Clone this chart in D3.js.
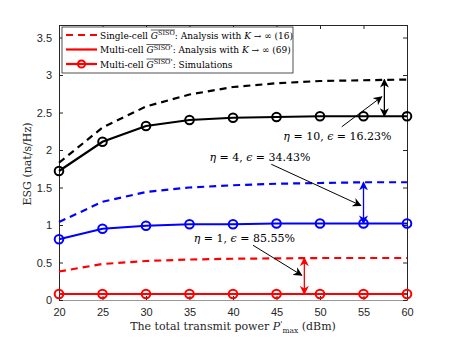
<!DOCTYPE html>
<html><head><meta charset="utf-8">
<script src="https://cdn.jsdelivr.net/npm/d3@7"></script>
<style>body{margin:0;background:#fff}svg{display:block}</style>
</head><body><svg id="c" width="450" height="338"></svg>
<script>
const power = [20,25,30,35,40,45,50,55,60];
const single10 = [1.83,2.30,2.58,2.74,2.84,2.89,2.92,2.93,2.94];
const multi10  = [1.72,2.11,2.32,2.40,2.43,2.44,2.45,2.45,2.45];
const single4  = [1.04,1.31,1.44,1.50,1.53,1.55,1.56,1.57,1.57];
const multi4   = [0.81,0.95,0.99,1.01,1.01,1.02,1.02,1.02,1.02];
const single1  = [0.38,0.48,0.52,0.54,0.55,0.555,0.56,0.56,0.56];
const multi1   = [0.08,0.08,0.08,0.08,0.08,0.08,0.08,0.08,0.08];
const xTicks = [20,25,30,35,40,45,50,55,60];
const yTicks = [0,0.5,1,1.5,2,2.5,3,3.5];
const gapArrows = [
  {x:57.4, y0:2.45, y1:2.94, color:'#000'},
  {x:55.0, y0:1.02, y1:1.57, color:'#0000ff'},
  {x:48.2, y0:0.08, y1:0.56, color:'#ff0000'}];
const notes = [
  {eta:'10', eps:'16.23%', tx:52.0, ty:2.13, ax0:52.5, ay0:2.31, ax1:57.1, ay1:2.71},
  {eta:'4',  eps:'34.43%', tx:43.1, ty:1.85, ax0:44.4, ay0:1.81, ax1:54.7, ay1:1.26},
  {eta:'1',  eps:'85.55%', tx:41.3, ty:0.77, ax0:42.3, ay0:0.73, ax1:47.9, ay1:0.33}];

const svg = d3.select('#c');
const x = d3.scaleLinear().domain([20,60]).range([59,407]);
const y = d3.scaleLinear().domain([0,3.667]).range([300,25]);
const axCol = '#262626';
const serif = "'DejaVu Serif', serif";

const defs = svg.append('defs');
[['k','#000'],['b','#0000ff'],['r','#ff0000']].forEach(([id,c])=>{
  defs.append('marker').attr('id','ae'+id).attr('viewBox','0 0 10 10').attr('refX',9).attr('refY',5)
   .attr('markerWidth',9).attr('markerHeight',9).attr('markerUnits','userSpaceOnUse').attr('orient','auto-start-reverse')
   .append('path').attr('d','M0,0 L10,5 L0,10 L3,5 Z').attr('fill',c);
});

const g = svg.append('g');
g.append('g').attr('transform','translate(0,300)')
 .call(d3.axisBottom(x).tickValues(xTicks).tickSizeInner(-4).tickSizeOuter(0).tickPadding(8))
 .call(a=>{a.select('.domain').attr('stroke','#999');a.selectAll('line').attr('stroke',axCol);
   a.selectAll('text').attr('fill',axCol).attr('font-family','Liberation Sans, Arial').attr('font-size',11);});
g.append('g').attr('transform','translate(0,25)')
 .call(d3.axisTop(x).tickValues(xTicks).tickSizeInner(-4).tickSizeOuter(0).tickFormat(''))
 .call(a=>{a.select('.domain').attr('stroke',axCol);a.selectAll('line').attr('stroke',axCol);});
g.append('g').attr('transform','translate(59,0)')
 .call(d3.axisLeft(y).tickValues(yTicks).tickSizeInner(-4).tickSizeOuter(0).tickPadding(7).tickFormat(d3.format('')))
 .call(a=>{a.select('.domain').attr('stroke',axCol);a.selectAll('line').attr('stroke',axCol);
   a.selectAll('text').attr('fill',axCol).attr('font-family','Liberation Sans, Arial').attr('font-size',11);});
g.append('g').attr('transform','translate(407,0)')
 .call(d3.axisRight(y).tickValues(yTicks).tickSizeInner(-4).tickSizeOuter(0).tickFormat(''))
 .call(a=>{a.select('.domain').attr('stroke',axCol);a.selectAll('line').attr('stroke',axCol);});

const line = d3.line().x((d,i)=>x(power[i])).y(d=>y(d));
const series = [
  {v:single10,c:'#000',dash:true},{v:multi10,c:'#000',dash:false,m:true},
  {v:single4,c:'#0000ff',dash:true},{v:multi4,c:'#0000ff',dash:false,m:true},
  {v:single1,c:'#ff0000',dash:true},{v:multi1,c:'#ff0000',dash:false,m:true}];
series.forEach(s=>{
  svg.append('path').attr('d',line(s.v)).attr('fill','none').attr('stroke',s.c).attr('stroke-width',2.2)
    .attr('stroke-dasharray',s.dash?'7,5':null);
  if(s.m) svg.selectAll(null).data(s.v).enter().append('circle')
    .attr('cx',(d,i)=>x(power[i])).attr('cy',d=>y(d)).attr('r',4.3)
    .attr('fill','none').attr('stroke',s.c).attr('stroke-width',2);
});

const mk = c=> c==='#000'?'k':(c==='#0000ff'?'b':'r');
gapArrows.forEach(a=>{
  svg.append('line').attr('x1',x(a.x)).attr('x2',x(a.x)).attr('y1',y(a.y0)).attr('y2',y(a.y1))
   .attr('stroke',a.color).attr('stroke-width',1.3)
   .attr('marker-start','url(#ae'+mk(a.color)+')').attr('marker-end','url(#ae'+mk(a.color)+')');
});
notes.forEach(n=>{
  svg.append('line').attr('x1',x(n.ax0)).attr('y1',y(n.ay0)).attr('x2',x(n.ax1)).attr('y2',y(n.ay1))
   .attr('stroke','#000').attr('stroke-width',1).attr('marker-end','url(#aek)');
  const t = svg.append('text').attr('x',x(n.tx)).attr('y',y(n.ty)).attr('text-anchor','middle')
   .attr('font-family',serif).attr('font-size',11).attr('fill','#000');
  t.append('tspan').attr('font-style','italic').text('η');
  t.append('tspan').text(' = '+n.eta+', ');
  t.append('tspan').attr('font-style','italic').text('ϵ');
  t.append('tspan').text(' = '+n.eps);
});

const lg = svg.append('g');
lg.append('rect').attr('x',62).attr('y',27).attr('width',231).attr('height',46)
  .attr('fill','#fff').attr('stroke','#262626').attr('stroke-width',0.8);
const legend = [
  {dash:true, m:false, pre:'Single-cell ', prime:false, post:': Analysis with ', k:true, end:' → ∞ (16)'},
  {dash:false,m:false, pre:'Multi-cell ', prime:true, post:': Analysis with ', k:true, end:' → ∞ (69)'},
  {dash:false,m:true,  pre:'Multi-cell ', prime:true, post:': Simulations', k:false, end:''}];
legend.forEach((e,i)=>{
  const yy = 35 + i*14.5;
  lg.append('line').attr('x1',66).attr('x2',97).attr('y1',yy).attr('y2',yy).attr('stroke','#ff0000')
    .attr('stroke-width',2.2).attr('stroke-dasharray',e.dash?'7,5':null);
  if(e.m) lg.append('circle').attr('cx',81.5).attr('cy',yy).attr('r',3.6).attr('fill','none').attr('stroke','#ff0000').attr('stroke-width',2);
  const t = lg.append('text').attr('x',100).attr('y',yy+3.5).attr('font-family',serif).attr('font-size',9).attr('fill','#000');
  t.append('tspan').text(e.pre);
  const gStart = e.pre.length;
  t.append('tspan').attr('font-style','italic').text('G');
  t.append('tspan').attr('font-size',6.5).attr('dy',-3.5).text('SISO');
  if(e.prime){ t.append('tspan').attr('font-size',8).text("'"); }
  t.append('tspan').attr('dy',3.5).text(e.post);
  if(e.k){ t.append('tspan').attr('font-style','italic').text('K'); t.append('tspan').text(e.end); }
  const node = t.node();
  const a = node.getExtentOfChar(gStart), b = node.getExtentOfChar(gStart+4);
  lg.append('line').attr('x1',a.x).attr('x2',b.x+b.width).attr('y1',a.y-0.5).attr('y2',a.y-0.5)
    .attr('stroke','#000').attr('stroke-width',0.6);
});

svg.append('text').attr('transform','translate(31,164) rotate(-90)').attr('text-anchor','middle')
  .attr('font-family',serif).attr('font-size',11).attr('fill','#262626').text('ESG (nat/s/Hz)');
const xl = svg.append('text').attr('x',233).attr('y',330).attr('text-anchor','middle')
  .attr('font-family',serif).attr('font-size',11).attr('fill','#262626');
xl.append('tspan').text('The total transmit power ');
xl.append('tspan').attr('font-style','italic').text('P');
xl.append('tspan').attr('font-size',8).attr('dy',-4).text("'");
xl.append('tspan').attr('font-size',7.5).attr('dy',7).text('max');
xl.append('tspan').attr('dy',-3).text(' (dBm)');
</script></body></html>
